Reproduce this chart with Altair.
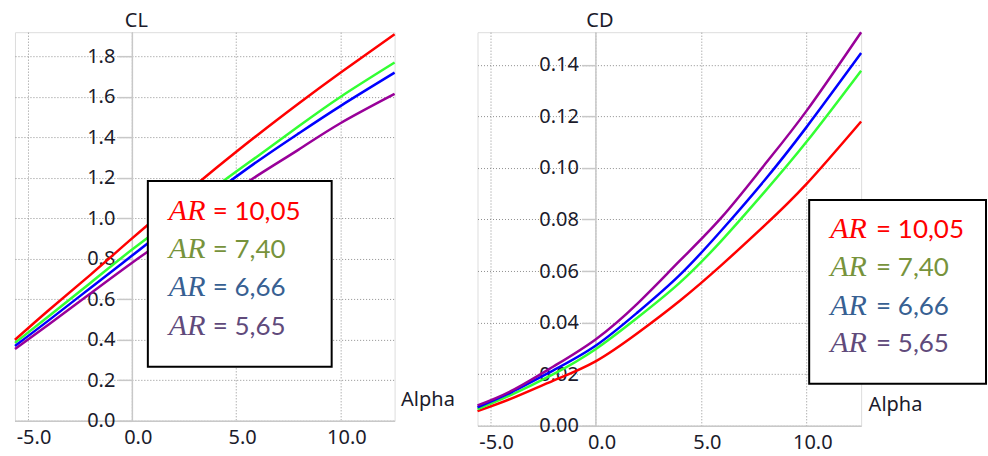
import altair as alt
import pandas as pd

# ---------------- data ----------------
alpha = [-5.6, -4, -2, 0, 2, 4, 6, 8, 10, 12.6]
series = ["AR = 10,05", "AR = 7,40", "AR = 6,66", "AR = 5,65"]
ar_values = ["10,05", "7,40", "6,66", "5,65"]

cl_1005 = [0.40, 0.545, 0.72, 0.90, 1.075, 1.245, 1.41, 1.568, 1.72, 1.91]
cl_740 = [0.385, 0.515, 0.68, 0.845, 1.0, 1.155, 1.305, 1.455, 1.60, 1.77]
cl_666 = [0.37, 0.495, 0.655, 0.815, 0.975, 1.13, 1.28, 1.42, 1.555, 1.72]
cl_565 = [0.355, 0.475, 0.628, 0.78, 0.925, 1.07, 1.21, 1.34, 1.47, 1.615]

cd_1005 = [0.0057, 0.0105, 0.0175, 0.025, 0.036, 0.0485, 0.0625, 0.0775, 0.0937, 0.118]
cd_740 = [0.0065, 0.012, 0.020, 0.0297, 0.042, 0.0555, 0.072, 0.0905, 0.110, 0.1377]
cd_666 = [0.0072, 0.013, 0.0215, 0.031, 0.044, 0.0585, 0.076, 0.095, 0.1157, 0.1445]
cd_565 = [0.0079, 0.0135, 0.023, 0.0335, 0.0475, 0.064, 0.081, 0.101, 0.122, 0.1526]

cl_ticks = [0.0, 0.2, 0.4, 0.6, 0.8, 1.0, 1.2, 1.4, 1.6, 1.8]
cd_ticks = [0.0, 0.02, 0.04, 0.06, 0.08, 0.10, 0.12, 0.14]
x_ticks = [-5, 0, 5, 10]

line_colors = ["#ff0000", "#33ff33", "#0000ff", "#990099"]
text_colors = ["#ff0000", "#77933c", "#376092", "#604a7b"]

AXIS_FONT = "Noto Sans"
AXIS_COLOR = "#1b1b2b"
GRAY = "#c8c8c8"


def long_df(cols):
    rows = []
    for name, vals in zip(series, cols):
        for a, v in zip(alpha, vals):
            rows.append({"alpha": a, "value": v, "series": name})
    return pd.DataFrame(rows)


def panel(cols, ytitle, ymax, yticks, yfmt, width, height, y_offset,
          alpha_title_x, box, txt_x, eq_x, baselines):
    df = long_df(cols)
    lines = alt.Chart(df).mark_line(strokeWidth=2.5, interpolate="natural").encode(
        x=alt.X(
            "alpha:Q",
            scale=alt.Scale(domain=[-5.6, 12.6], nice=False, zero=False),
            axis=alt.Axis(
                values=x_ticks, format=".1f",
                labelExpr="replace(datum.label, '\u2212', '-')",
                grid=True, gridDash=[1, 2], gridColor="#8f8f8f", gridWidth=1,
                domainColor=GRAY, domainWidth=1.5, ticks=False,
                labelFont=AXIS_FONT, labelFontSize=20, labelColor=AXIS_COLOR,
                labelPadding=7, labelOffset=6, labelOverlap=False, labelFlush=False,
                title="Alpha", titleX=alpha_title_x, titleY=-21, titleAlign="left",
                titleBaseline="middle", titleFont=AXIS_FONT, titleFontSize=20,
                titleFontWeight="normal", titleColor=AXIS_COLOR,
            ),
        ),
        y=alt.Y(
            "value:Q",
            scale=alt.Scale(domain=[0, ymax], nice=False, zero=True),
            axis=alt.Axis(
                values=yticks, format=yfmt, offset=y_offset,
                grid=True, gridDash=[1, 2], gridColor="#8f8f8f", gridWidth=1,
                domainColor=GRAY, domainWidth=1.5,
                ticks=True, tickSize=14, tickColor=GRAY, tickWidth=1.5,
                labelFont=AXIS_FONT, labelFontSize=20, labelColor=AXIS_COLOR,
                labelPadding=3, labelOverlap=False, labelFlush=False,
                title=ytitle, titleAngle=0, titleX=4, titleY=-6,
                titleAlign="center", titleBaseline="alphabetic",
                titleFont=AXIS_FONT, titleFontSize=20, titleFontWeight="normal",
                titleColor=AXIS_COLOR,
            ),
        ),
        color=alt.Color("series:N", scale=alt.Scale(domain=series, range=line_colors), legend=None),
    )

    one = pd.DataFrame({"k": [0]})
    x0, x1, y0, y1 = box
    rect = alt.Chart(one).mark_rect(fill="white", stroke="black", strokeWidth=2).encode(
        x=alt.value(x0), x2=alt.value(x1), y=alt.value(y0), y2=alt.value(y1)
    )
    layers = [lines, rect]
    for val, col, yb in zip(ar_values, text_colors, baselines):
        layers.append(
            alt.Chart(one).mark_text(
                text="AR", font="Liberation Serif", fontStyle="italic", fontSize=30,
                align="left", baseline="alphabetic", color=col,
            ).encode(x=alt.value(txt_x), y=alt.value(yb))
        )
        layers.append(
            alt.Chart(one).mark_text(
                text="= " + val, font="Lato", fontSize=26,
                align="left", baseline="alphabetic", color=col,
            ).encode(x=alt.value(eq_x), y=alt.value(yb))
        )
    return alt.layer(*layers).properties(width=width, height=height)


left = panel(
    [cl_1005, cl_740, cl_666, cl_565], "CL", 1.92, cl_ticks, ".1f",
    380, 389, -117, 386,
    (133, 317, 149, 335), 154, 198, [188, 226, 264, 303],
)
right = panel(
    [cd_1005, cd_740, cd_666, cd_565], "CD", 0.1526, cd_ticks, ".2f",
    384, 394, -118, 391,
    (332, 509, 168, 352), 353, 399, [206, 244, 283, 320],
)

chart = alt.hconcat(left, right, spacing=83, bounds="flush").properties(
    padding={"left": 9, "top": 9, "right": 0, "bottom": 0}
).configure_view(stroke=None).configure(background="white")

chart.save("out.html", embed_options={"renderer": "svg", "actions": False})
